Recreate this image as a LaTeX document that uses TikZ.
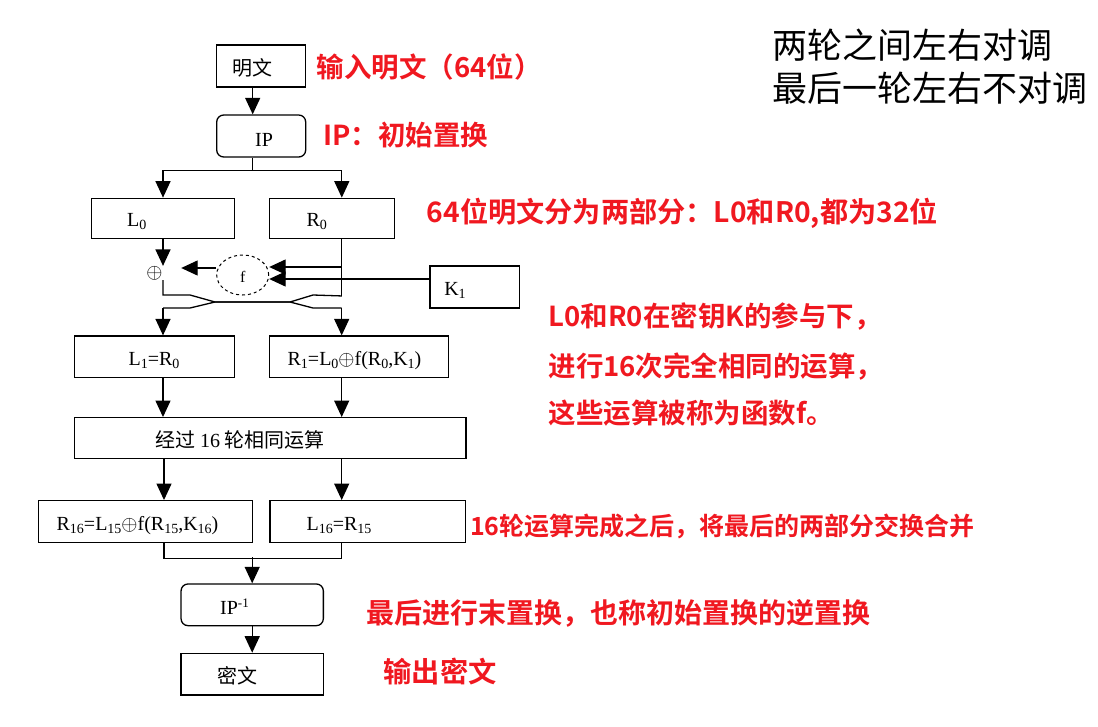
\documentclass[tikz,border=0pt]{standalone}
\usepackage{fontspec}
\setmainfont{Liberation Serif}
\newfontfamily\cjk{Noto Sans CJK SC}
\newfontfamily\cjkb{Noto Sans CJK SC Bold}
\usetikzlibrary{arrows.meta,shapes.geometric}
\definecolor{lbred}{RGB}{240,24,32}
\newcommand\dn[1]{\raisebox{-3pt}{\fontsize{14}{14}\selectfont #1}}
\newcommand\upi[1]{\raisebox{7pt}{\fontsize{13}{13}\selectfont #1}}
\begin{document}
\begin{tikzpicture}[x=1pt,y=-1pt,
  box/.style={draw,line width=1.3pt,inner sep=0pt},
  rbox/.style={box,rounded corners=7pt},
  ln/.style={line width=1.3pt},
  arr/.style={ln,-{Triangle[length=16.5pt,width=15pt]}},
  btxt/.style={inner sep=0pt,font=\fontsize{20}{20}\selectfont},
  ctxt/.style={inner sep=0pt,font=\cjk\fontsize{20}{20}\selectfont},
  note/.style={inner sep=0pt,anchor=west,text=lbred},
  blk/.style={inner sep=0pt,anchor=west,font=\cjk\fontsize{35}{35}\selectfont}]
\useasboundingbox[fill=white] (0,0) rectangle (1098,726);
% boxes
\node[box,minimum width=89pt,minimum height=42pt] (mw) at (261.2,66) {};
\node[rbox,minimum width=89pt,minimum height=42pt] (ip) at (261.2,136) {};
\node[box,minimum width=142.6pt,minimum height=40pt] (L0) at (163,218.3) {};
\node[box,minimum width=125pt,minimum height=40pt] (R0) at (331.8,218.3) {};
\node[box,minimum width=89.3pt,minimum height=42pt] (K1) at (474.7,287) {};
\node[draw,dashed,line width=1pt,ellipse,minimum width=52pt,minimum height=40pt,inner sep=0pt] (f) at (242.7,275) {};
\node[inner sep=0pt,font=\fontsize{21}{21}\selectfont] (xo) at (154.5,273) {$\oplus$};
\node[box,minimum width=160pt,minimum height=41.3pt] (L1) at (154.3,356.7) {};
\node[box,minimum width=179pt,minimum height=41.3pt] (R1) at (358.8,356.7) {};
\node[box,minimum width=391.7pt,minimum height=40.6pt] (big) at (270.2,438) {};
\node[box,minimum width=214pt,minimum height=41.6pt] (R16) at (145.3,521.5) {};
\node[box,minimum width=195.7pt,minimum height=41.6pt] (L16) at (367.8,521.5) {};
\node[rbox,minimum width=142.3pt,minimum height=41.7pt] (ipi) at (252.2,604.8) {};
\node[box,minimum width=142.3pt,minimum height=41.7pt] (mi) at (252.2,674.2) {};
% box texts
\node[ctxt] (tmw) at (252.5,68) {明文};
\node[btxt] (tip) at (264,140) {IP};
\node[btxt] (tL0) at (136.7,222) {L\dn{0}};
\node[btxt] (tR0) at (316.7,222) {R\dn{0}};
\node[btxt,font=\fontsize{16}{16}\selectfont] (tf) at (242.7,277) {f};
\node[btxt] (tK1) at (455,290) {K\dn{1}};
\node[btxt] (tL1) at (154,361) {L\dn{1}=R\dn{0}};
\node[btxt] (tR1) at (354.5,361) {R\dn{1}=L\dn{0}$\oplus$f(R\dn{0},K\dn{1})};
\node[ctxt] (tbig) at (240,440) {经过 {\rmfamily 16} 轮相同运算};
\node[btxt] (tR16) at (137.5,526) {R\dn{16}=L\dn{15}$\oplus$f(R\dn{15},K\dn{16})};
\node[btxt] (tL16) at (339,526) {L\dn{16}=R\dn{15}};
\node[btxt] (tipi) at (234.5,607) {IP\upi{-1}};
\node[ctxt] (tmi) at (237,676) {密文};
% connectors
\draw[arr] ([xshift=-8.5pt]mw.south) -- ([xshift=-8.5pt]ip.north);
\draw[ln] ([xshift=-8.5pt]ip.south) -- ++(0,13) coordinate (br);
\draw[arr] (br) -| (L0.north);
\draw[arr] (br) -| ([xshift=10pt]R0.north);
\draw[arr] (L0.south) -- (L0.south |- xo.north);
\draw[ln] ([xshift=10pt]R0.south) -- ++(0,57) coordinate (rbot);
\coordinate (rb) at (341.7,267);
\draw[arr] (rb) -- (f.east |- rb);
\coordinate (kb) at ([yshift=8pt]K1.west);
\draw[arr] (kb) -- (f.east |- kb);
\draw[arr] ([yshift=7pt]f.west) -- ++(-35,0);
\draw[ln] (L0.south |- xo.south) -- (163,295) -- (190,295) -- (215,302) -- (290,302) -- (313,308) -- (341.7,308) coordinate (cr);
\draw[arr] (cr) -- ([xshift=-17.1pt]R1.north);
\draw[ln] (rbot) -- (313,295) -- (290,302) -- (215,302) -- (190,308) -- (163,308) coordinate (cl);
\draw[arr] (cl) -- ([xshift=8.7pt]L1.north);
\draw[arr] ([xshift=8.7pt]L1.south) -- ([xshift=8.7pt]L1.south |- big.north);
\draw[arr] ([xshift=-17.1pt]R1.south) -- ([xshift=-17.1pt]R1.south |- big.north);
\draw[arr] ([xshift=18.7pt]R16.north |- big.south) -- ([xshift=18.7pt]R16.north);
\draw[arr] ([xshift=-26.1pt]L16.north |- big.south) -- ([xshift=-26.1pt]L16.north);
\draw[ln] ([xshift=18.7pt]R16.south) -- ++(0,15.8) -| ([xshift=-26.1pt]L16.south);
\coordinate (mg) at (252.2,557.3);
\draw[arr] (mg) -- (ipi.north);
\draw[arr] (ipi.south) -- (mi.north);
% red notes
\node[note,font=\cjkb\fontsize{27.5}{27.5}\selectfont] (n1) at (316.7,67) {输入明文（64位）};
\node[note,font=\cjkb\fontsize{27.5}{27.5}\selectfont] (n2) at (323.3,135) {IP：初始置换};
\node[note,font=\cjkb\fontsize{28.2}{28.2}\selectfont] (n3) at (426.7,213.3) {64位明文分为两部分：L0和R0,都为32位};
\node[note,font=\cjkb\fontsize{27.5}{27.5}\selectfont] (n4) at (548.3,316.7) {L0和R0在密钥K的参与下，};
\node[note,font=\cjkb\fontsize{27.5}{27.5}\selectfont] (n5) at (548.3,366.7) {进行16次完全相同的运算，};
\node[note,font=\cjkb\fontsize{27.5}{27.5}\selectfont] (n6) at (548.3,413) {这些运算被称为函数f。};
\node[note,font=\cjkb\fontsize{25}{25}\selectfont] (n7) at (470,526.7) {16轮运算完成之后，将最后的两部分交换合并};
\node[note,font=\cjkb\fontsize{28}{28}\selectfont] (n8) at (366.7,613.3) {最后进行末置换，也称初始置换的逆置换};
\node[note,font=\cjkb\fontsize{28.3}{28.3}\selectfont] (n9) at (383.3,671.7) {输出密文};
% black notes
\node[blk] (b1) at (772,45) {两轮之间左右对调};
\node[blk] (b2) at (772,88) {最后一轮左右不对调};
\end{tikzpicture}
\end{document}
